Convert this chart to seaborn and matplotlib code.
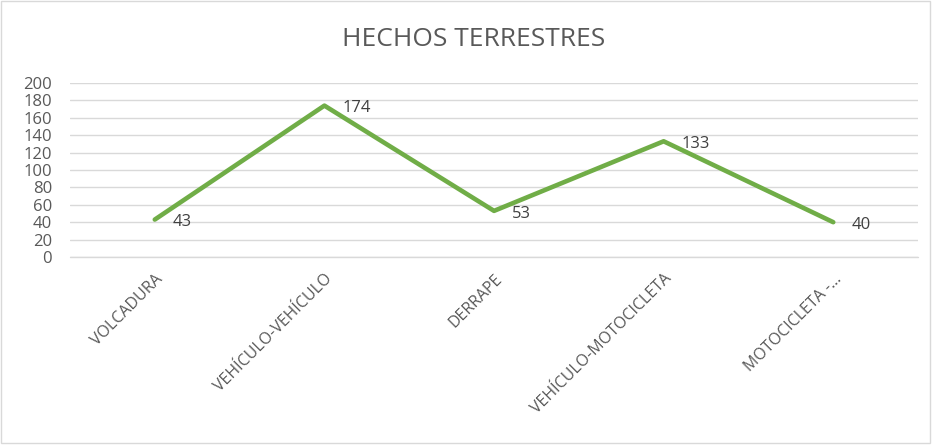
import pandas as pd
import matplotlib.pyplot as plt
import seaborn as sns
from matplotlib.patches import Rectangle

# Chart data
categorias = ['VOLCADURA', 'VEHÍCULO-VEHÍCULO', 'DERRAPE', 'VEHÍCULO-MOTOCICLETA', 'MOTOCICLETA -...']
valores = [43, 174, 53, 133, 40]
y_ticks = list(range(0, 201, 20))

df = pd.DataFrame({'hecho': categorias, 'total': valores})

sns.set_style('white')
plt.rcParams['font.family'] = ['Open Sans', 'DejaVu Sans']

fig = plt.figure(figsize=(9.33, 4.45), dpi=100)
ax = fig.add_axes([0.075, 0.4225, 0.909, 0.391])

sns.lineplot(x='hecho', y='total', data=df, sort=False, color='#70AD47',
             linewidth=3.3, ax=ax)

# data labels to the right of each point
for i, v in enumerate(valores):
    ax.annotate(str(v), (i, v), xytext=(13, -2), textcoords='offset points',
                ha='left', va='center', fontsize=12, color='#404040')

ax.set_xlim(-0.5, len(categorias) - 0.5)
ax.set_ylim(0, 200)
ax.set_yticks(y_ticks)
ax.set_xticks(range(len(categorias)))
ax.set_xticklabels(categorias, rotation=45, ha='right', rotation_mode='anchor',
                   fontsize=11.5, color='#595959')
ax.tick_params(axis='y', labelsize=12, labelcolor='#595959', length=0, pad=13)
ax.tick_params(axis='x', length=0, pad=10)
ax.yaxis.grid(True, color='#D9D9D9', linewidth=1)
ax.axhline(0, color='#D9D9D9', linewidth=1, clip_on=False, zorder=0)
ax.set_axisbelow(True)
for s in ax.spines.values():
    s.set_visible(False)
ax.set_xlabel('')
ax.set_ylabel('')

fig.suptitle('HECHOS TERRESTRES', x=0.508, y=0.94, fontsize=19, color='#595959')

# light border around the chart
fig.patches.append(Rectangle((0.001, 0.004), 0.996, 0.994, transform=fig.transFigure,
                             fill=False, edgecolor='#D9D9D9', linewidth=1))

plt.savefig('out.png', dpi=100)
